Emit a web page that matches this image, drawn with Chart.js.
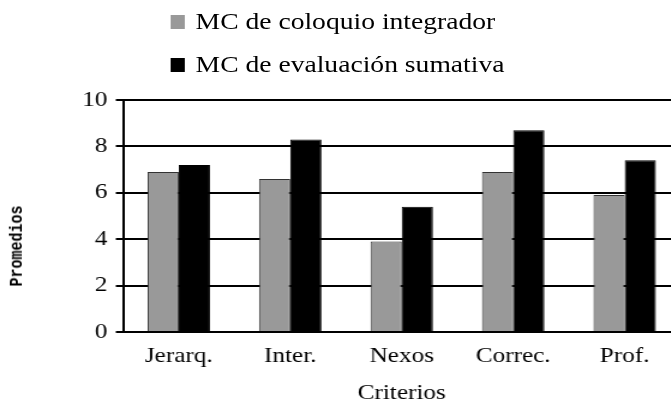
<!DOCTYPE html>
<html>
<head>
<meta charset="utf-8">
<script src="https://cdn.jsdelivr.net/npm/chart.js@4.4.0/dist/chart.umd.min.js"></script>
<style>
  html, body { margin: 0; padding: 0; background: #fff; overflow: hidden; width: 671px; height: 405px; }
  /* the original picture is stretched sideways, so the whole chart is too */
  #wrap { position: relative; width: 580px; height: 410px; transform: scaleX(1.2); transform-origin: 0 0; }
  #legend { position: absolute; left: 142px; top: 0px; font-family: "Liberation Serif", serif; font-size: 23px; color: #000; }
  #legend div { height: 43px; display: flex; align-items: center; white-space: nowrap; }
  #legend span.box { display: inline-block; width: 12px; height: 14px; margin-right: 9px; }
  #ytitle { position: absolute; left: 15px; top: 246px; transform: translate(-50%, -50%) rotate(-90deg);
            font-family: "Liberation Mono", monospace; font-weight: bold; font-size: 15px; color: #000; white-space: nowrap; }
</style>
</head>
<body>
<div id="wrap">
  <canvas id="chart" width="580" height="410"></canvas>
  <div id="legend"></div>
  <div id="ytitle"></div>
</div>
<script>
// chart data
const categories = ['Jerarq.', 'Inter.', 'Nexos', 'Correc.', 'Prof.'];
const coloquio = [6.9, 6.6, 3.9, 6.9, 5.9];
const sumativa = [7.2, 8.3, 5.4, 8.7, 7.4];
const seriesNames = ['MC de coloquio integrador', 'MC de evaluación sumativa'];
const seriesColors = ['#999999', '#000000'];
const yTicks = [0, 2, 4, 6, 8, 10];
const xTitle = 'Criterios';
const yTitle = 'Promedios';

const serif = '"Liberation Serif", "Times New Roman", serif';

const chart = new Chart(document.getElementById('chart'), {
    type: 'bar',
    data: {
        labels: categories,
        datasets: [
            { label: seriesNames[0], data: coloquio, backgroundColor: seriesColors[0], borderColor: '#333', borderWidth: 1 },
            { label: seriesNames[1], data: sumativa, backgroundColor: seriesColors[1], borderColor: '#000', borderWidth: 1 }
        ]
    },
    options: {
        responsive: false,
        animation: false,
        devicePixelRatio: 1,
        layout: { padding: { top: 100, left: 67, right: 13, bottom: 0 } },
        datasets: { bar: { categoryPercentage: 0.56, barPercentage: 1 } },
        plugins: { legend: { display: false }, tooltip: { enabled: false } },
        scales: {
            x: {
                afterFit: axis => { axis.height = 78; },
                grid: { display: false, drawTicks: false },
                border: { color: '#000', width: 2 },
                ticks: { color: '#000', font: { family: serif, size: 21 }, padding: 12 },
                title: { display: true, text: xTitle, color: '#000', font: { family: serif, size: 21 }, padding: { top: 4, bottom: 4 } }
            },
            y: {
                min: 0, max: 10,
                afterFit: axis => { axis.width = 35.5; },
                afterBuildTicks: axis => { axis.ticks = yTicks.map(v => ({ value: v })); },
                grid: { color: '#000', lineWidth: 2, tickLength: 6 },
                border: { color: '#000', width: 2 },
                ticks: { color: '#000', font: { family: serif, size: 21 }, padding: 7 }
            }
        }
    }
});

// legend and y title as page text
const legend = document.getElementById('legend');
chart.data.datasets.forEach(ds => {
    const row = document.createElement('div');
    const box = document.createElement('span');
    box.className = 'box';
    box.style.background = ds.backgroundColor;
    row.appendChild(box);
    row.appendChild(document.createTextNode(ds.label));
    legend.appendChild(row);
});
document.getElementById('ytitle').textContent = yTitle;
</script>
</body>
</html>
